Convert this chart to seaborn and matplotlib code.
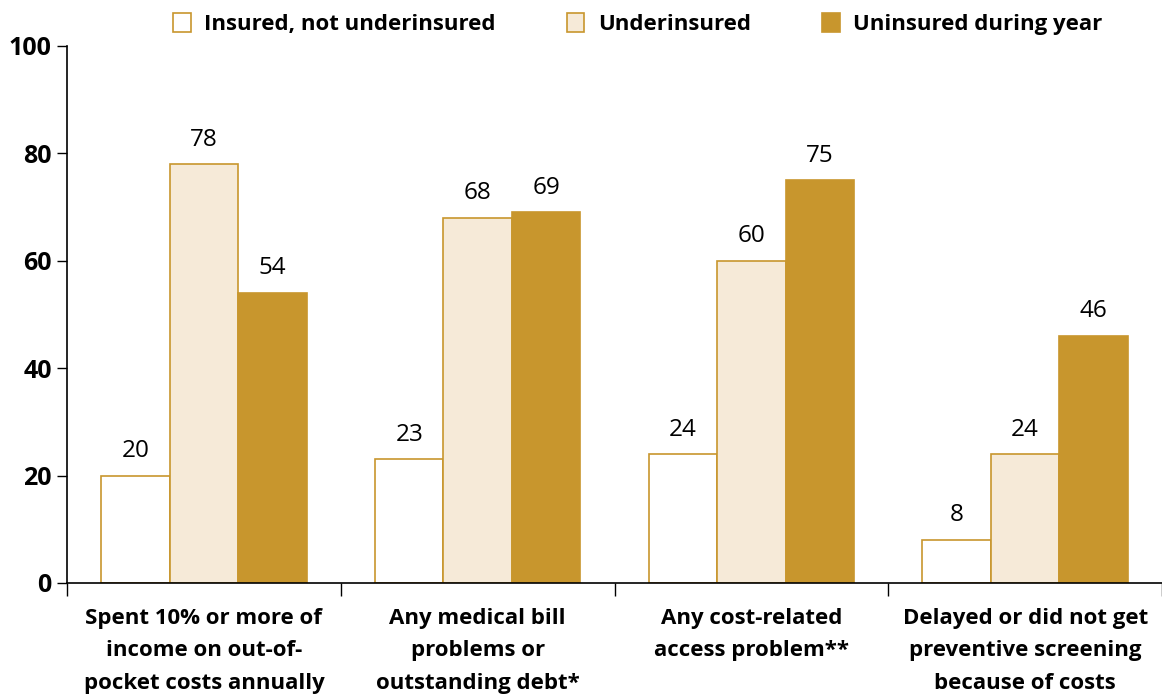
import numpy as np
import pandas as pd
import matplotlib
matplotlib.use("Agg")
import matplotlib.pyplot as plt
import seaborn as sns
from matplotlib.ticker import FixedLocator

# Chart data
categories = [
    "Spent 10% or more of\nincome on out-of-\npocket costs annually",
    "Any medical bill\nproblems or\noutstanding debt*",
    "Any cost-related\naccess problem**",
    "Delayed or did not get\npreventive screening\nbecause of costs",
]
groups = ["Insured, not underinsured", "Underinsured", "Uninsured during year"]
insured = [20, 23, 24, 8]
underinsured = [78, 68, 60, 24]
uninsured = [54, 69, 75, 46]

rows = []
for g, vals in zip(groups, [insured, underinsured, uninsured]):
    for c, v in zip(categories, vals):
        rows.append({"category": c, "group": g, "value": v})
df = pd.DataFrame(rows)

gold = "#C8962D"
fills = {groups[0]: "#FFFFFF", groups[1]: "#F6EAD8", groups[2]: gold}

sns.set_style("white")
plt.rcParams["font.family"] = ["Open Sans", "DejaVu Sans"]
plt.rcParams.update({"text.color": "black", "axes.labelcolor": "black",
                     "xtick.color": "black", "ytick.color": "black"})

fig = plt.figure(figsize=(11.62, 6.94), dpi=100)
ax = fig.add_axes([0.0577, 0.16, 0.9423, 0.7738])

sns.barplot(data=df, x="category", y="value", hue="group", hue_order=groups,
            palette=fills, width=0.75, edgecolor=gold, linewidth=1.2,
            saturation=1, legend=False, ax=ax)

for cont in ax.containers:
    ax.bar_label(cont, labels=[f"{int(v)}" for v in cont.datavalues],
                 padding=9, fontsize=17.5)

ax.set_ylim(0, 100)
ax.set_xlim(-0.5, len(categories) - 0.5)
ax.set_yticks([0, 20, 40, 60, 80, 100])
ax.tick_params(axis="y", left=True, labelsize=18, length=7, width=1,
               direction="out", pad=4)
for lbl in ax.get_yticklabels():
    lbl.set_fontweight("bold")

# category labels without major tick marks, boundary ticks via minor locator
ax.tick_params(axis="x", which="major", length=0, labelsize=16, pad=18)
for lbl in ax.get_xticklabels():
    lbl.set_fontweight("bold")
    lbl.set_linespacing(1.72)
ax.xaxis.set_minor_locator(FixedLocator(np.arange(-0.5, len(categories), 1.0)))
ax.tick_params(axis="x", which="minor", bottom=True, length=9, width=1,
               direction="out")

ax.set_xlabel("")
ax.set_ylabel("")
for side in ["top", "right"]:
    ax.spines[side].set_visible(False)
for side in ["left", "bottom"]:
    ax.spines[side].set_color("black")
    ax.spines[side].set_linewidth(1.2)

handles = [plt.Rectangle((0, 0), 1, 1, facecolor=fills[g], edgecolor=gold, linewidth=1.2)
           for g in groups]
leg = fig.legend(handles, groups, loc="upper center", bbox_to_anchor=(0.5486, 1.0),
                 ncol=3, frameon=False, fontsize=16, handlelength=0.8, handleheight=0.9,
                 columnspacing=3.2, handletextpad=0.6, borderaxespad=0.2)
for t in leg.get_texts():
    t.set_fontweight("bold")

fig.savefig("out.png", dpi=100)
